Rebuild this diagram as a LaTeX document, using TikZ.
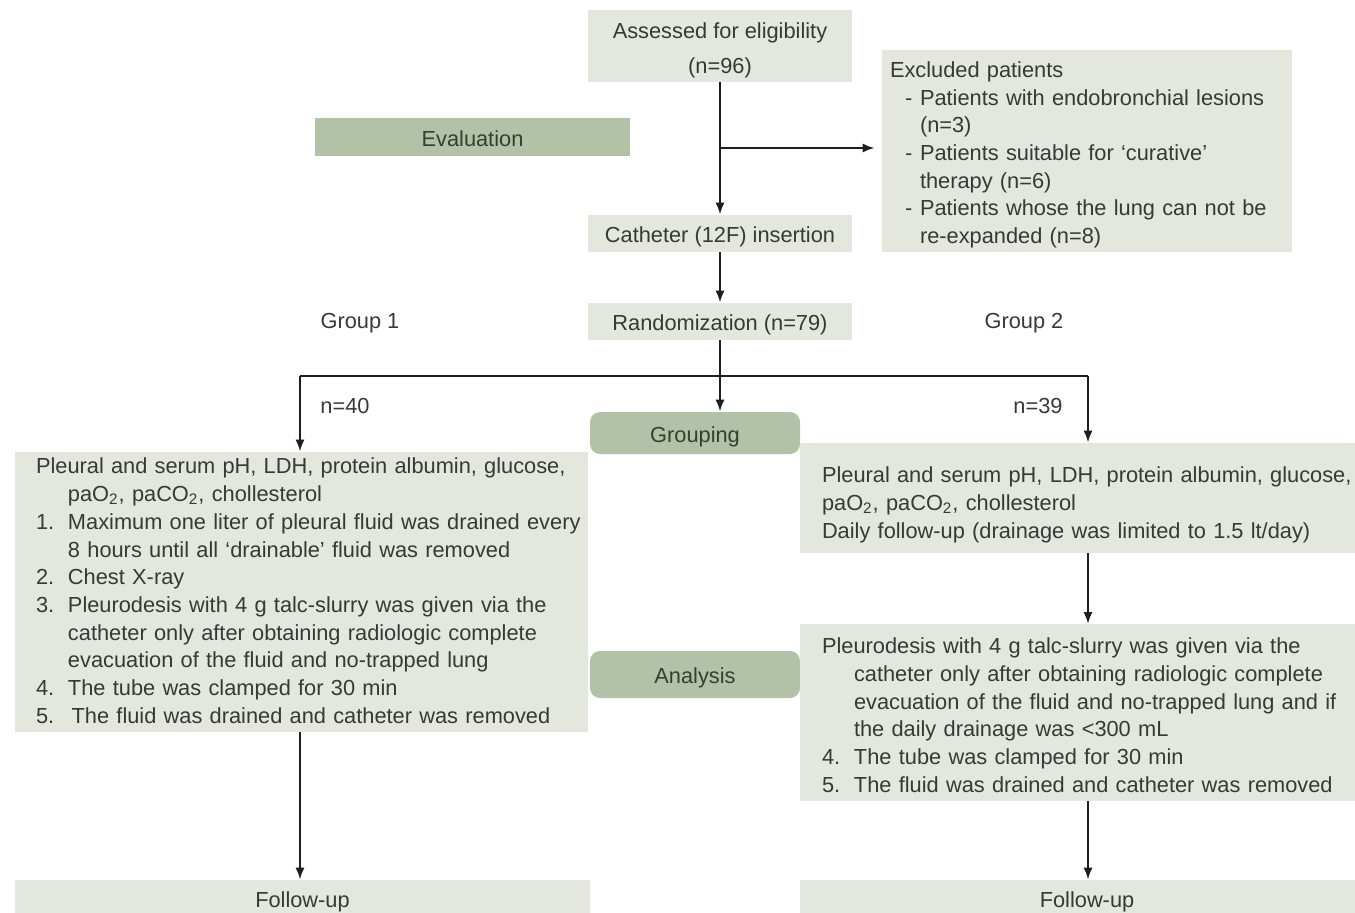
\documentclass[tikz,border=0pt]{standalone}
\usepackage{fontspec}
\setmainfont{Liberation Sans}
\usepackage{tikz}
\usetikzlibrary{shapes,arrows.meta,positioning}

\definecolor{boxlight}{HTML}{E3E7DE}
\definecolor{boxdark}{HTML}{B3C2A6}
\definecolor{txtdark}{HTML}{34402E}
\definecolor{txtgrey}{HTML}{383838}
\definecolor{linec}{HTML}{1E1E1E}

\newcommand{\exitem}{\hspace*{7.5pt}\makebox[7.5pt][l]{-}}
\newcommand{\excont}{\hspace*{15pt}}
\newcommand{\numitem}[1]{\makebox[16pt][l]{#1}}
\newcommand{\numcont}{\hspace*{16pt}}

\begin{document}
\begin{tikzpicture}[x=0.5pt, y=-0.5pt, font=\fontsize{10.9}{13.85}\selectfont, block/.style = {rectangle, fill=boxlight, text=txtgrey, inner sep=0pt, align=center}, oneline/.style = {text height=10.5pt, text depth=1.5pt}, panel/.style = {rectangle, fill=boxlight, text=txtgrey, inner ysep=0pt, align=left}, stage/.style = {rectangle, fill=boxdark, text=txtdark, inner sep=0pt, align=center, oneline}, tag/.style = {text=txtgrey, inner sep=1pt}, line/.style = {draw=linec, line width=1.1pt, -{Latex[length=6pt,width=4.6pt]}}]
			\path[use as bounding box, clip] (0,0) rectangle (1355,912);

			\node[block, minimum width=132pt, minimum height=36pt] (assess) at (720,46) {\rule{0pt}{12.3pt}Assessed for eligibility\\[4pt](n=96)};
			\node[panel, inner xsep=4pt, text width=197pt, minimum height=101pt] (excl) at (1087,151) {\noindent\begin{tabular}{@{}l@{}}
				\rule{0pt}{13.7pt}Excluded patients\\
				\exitem Patients with endobronchial lesions\\
				\excont(n=3)\\
				\exitem Patients suitable for `curative'\\
				\excont therapy (n=6)\\
				\exitem Patients whose the lung can not be\\
				\excont re-expanded (n=8)
			\end{tabular}};
			\node[stage, minimum width=157.5pt, minimum height=19pt] (eval) at (472.5,137) {Evaluation};
			\node[block, oneline, minimum width=132pt, minimum height=18.5pt] (cath) at (720,233.5) {Catheter (12F) insertion};
			\node[block, oneline, minimum width=132pt, minimum height=18.5pt, below of=cath, node distance=44pt] (rand) {Randomization (n=79)};
			\node[tag] (g1lab) at (360,323) {Group 1};
			\node[tag] (g2lab) at (1024,323) {Group 2};
			\node[tag] (n1lab) at (345,406) {n=40};
			\node[tag] (n2lab) at (1038,406) {n=39};
			\node[stage, rounded corners=5pt, minimum width=105pt, minimum height=21pt] (grp) at (695,433) {Grouping};
			\node[stage, rounded corners=5pt, minimum width=105pt, minimum height=23.5pt] (ana) at (695,674.5) {Analysis};

			\node[panel, inner xsep=10.5pt, text width=265.5pt, minimum height=140pt] (tests1) at (301.5,592) {\noindent\begin{tabular}{@{}l@{}}
				\rule{0pt}{10.7pt}Pleural and serum pH, LDH, protein albumin, glucose,\\
				\numcont paO\textsubscript{2}, paCO\textsubscript{2}, chollesterol\\
				\numitem{1.}Maximum one liter of pleural fluid was drained every\\
				\numcont 8 hours until all `drainable' fluid was removed\\
				\numitem{2.}Chest X-ray\\
				\numitem{3.}Pleurodesis with 4 g talc-slurry was given via the\\
				\numcont catheter only after obtaining radiologic complete\\
				\numcont evacuation of the fluid and no-trapped lung\\
				\numitem{4.}The tube was clamped for 30 min\\
				\numitem{5.}\,The fluid was drained and catheter was removed
			\end{tabular}};
			\node[panel, inner xsep=11pt, text width=255.5pt, minimum height=55pt] (tests2) at (1077.5,498) {\noindent\begin{tabular}{@{}l@{}}
				\rule{0pt}{16.7pt}Pleural and serum pH, LDH, protein albumin, glucose,\\
				paO\textsubscript{2}, paCO\textsubscript{2}, chollesterol\\
				Daily follow-up (drainage was limited to 1.5 lt/day)
			\end{tabular}};
			\node[panel, inner xsep=11pt, text width=255.5pt, minimum height=87.5pt] (pleuro2) at (1077.5,712.5) {\noindent\begin{tabular}{@{}l@{}}
				\rule{0pt}{14.7pt}Pleurodesis with 4 g talc-slurry was given via the\\
				\numcont catheter only after obtaining radiologic complete\\
				\numcont evacuation of the fluid and no-trapped lung and if\\
				\numcont the daily drainage was <300 mL\\
				\numitem{4.}The tube was clamped for 30 min\\
				\numitem{5.}The fluid was drained and catheter was removed
			\end{tabular}};
			\node[block, oneline, minimum width=287.5pt, minimum height=18pt] (follow1) at (302.5,898) {Follow-up};
			\node[block, oneline, minimum width=287pt, minimum height=18pt] (follow2) at (1087,898) {Follow-up};

			\coordinate (branch) at (720,148);
			\coordinate (arm1) at (300,376);
			\coordinate (arm2) at (1088,376);

			\path[line] (assess) -- (cath);
			\path[line, shorten >=3.5pt] (branch) -- (branch -| excl.west);
			\path[line] (cath) -- (rand);
			\path[line] (rand.south) -- (rand.south |- grp.north);
			\draw[linec, line width=1.1pt] (arm1) -- (arm2);
			\path[line] (arm1) -- (arm1 |- tests1.north);
			\path[line] (arm2) -- (arm2 |- tests2.north);
			\path[line] (tests2.south -| arm2) -- (pleuro2.north -| arm2);
			\path[line] (tests1.south -| arm1) -- (follow1.north -| arm1);
			\path[line] (pleuro2.south -| arm2) -- (follow2.north -| arm2);
\end{tikzpicture}
\end{document}
